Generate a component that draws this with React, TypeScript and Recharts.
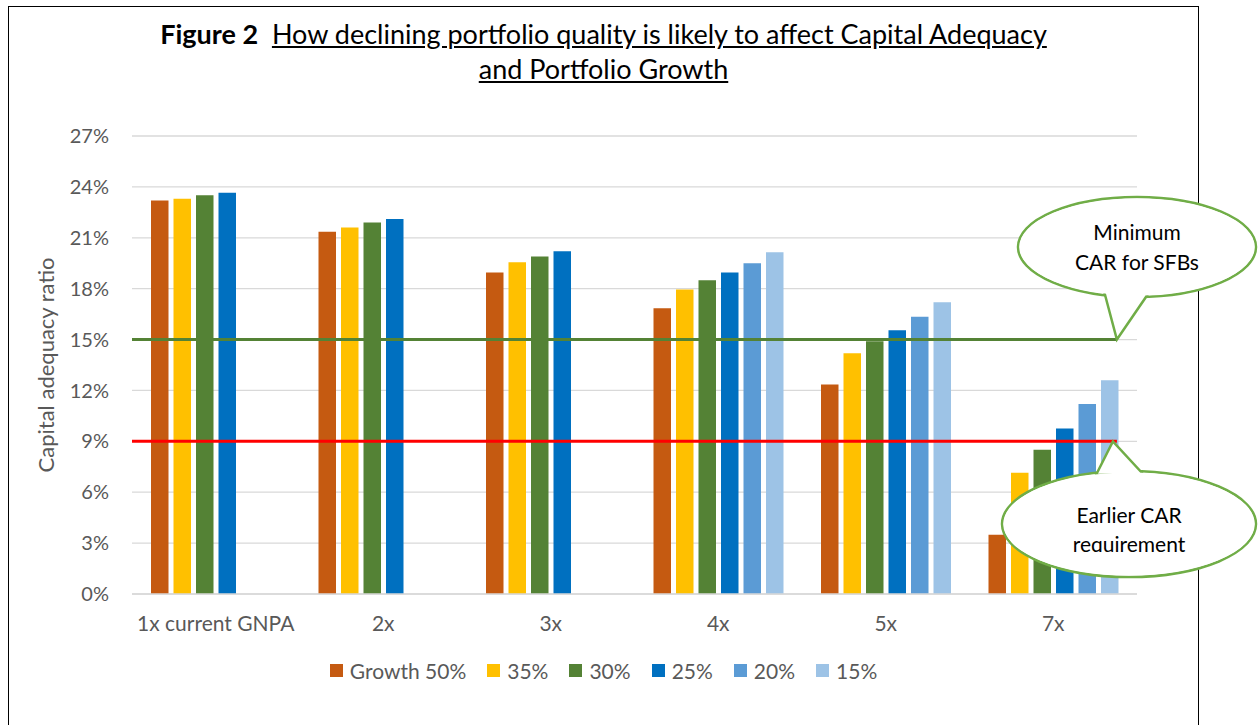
import { BarChart, Bar, XAxis, YAxis, CartesianGrid, ReferenceLine, Legend } from "recharts";

const categories = ["1x current GNPA", "2x", "3x", "4x", "5x", "7x"];
const growth50 = [23.2, 21.35, 18.95, 16.85, 12.35, 3.5];
const growth35 = [23.3, 21.6, 19.55, 17.95, 14.2, 7.15];
const growth30 = [23.5, 21.9, 19.9, 18.5, 14.9, 8.5];
const growth25 = [23.65, 22.1, 20.2, 18.95, 15.55, 9.75];
const growth20 = [null, null, null, 19.5, 16.35, 11.2];
const growth15 = [null, null, null, 20.15, 17.2, 12.6];
const yTicks = [0, 3, 6, 9, 12, 15, 18, 21, 24, 27];
const minCar = 15;
const earlierCar = 9;
const lineEnd = 5.88; // where the lines stop, in category widths from the left of the plot

const series = [
  { key: "g50", name: "Growth 50%", color: "#C55A11", values: growth50 },
  { key: "g35", name: "35%", color: "#FFC000", values: growth35 },
  { key: "g30", name: "30%", color: "#548235", values: growth30 },
  { key: "g25", name: "25%", color: "#0070C0", values: growth25 },
  { key: "g20", name: "20%", color: "#5B9BD5", values: growth20 },
  { key: "g15", name: "15%", color: "#9DC3E6", values: growth15 },
];

const data = categories.map((category, i) => {
  const row: Record<string, string | number | null> = { category };
  series.forEach((s) => (row[s.key] = s.values[i]));
  return row;
});

const W = 1258;
const H = 725;
const plot = { left: 132, top: 136, right: 1137, bottom: 594 };
const yMax = 27;
const FONT = "Lato, 'Open Sans', sans-serif";
const GREY = "#595959";

const xPos = (v: number) => plot.left + (v / categories.length) * (plot.right - plot.left);
const yPos = (v: number) => plot.top + (1 - v / yMax) * (plot.bottom - plot.top);

// reference line that stops at the callout tail instead of running to the plot edge
const shortLine = (color: string) => (p: any) => (
  <line
    x1={p.x1}
    y1={p.y1}
    x2={p.x1 + ((p.x2 - p.x1) * lineEnd) / categories.length}
    y2={p.y2}
    stroke={color}
    strokeWidth={3}
  />
);

function renderLegend() {
  return (
    <div style={{ display: "flex", justifyContent: "center", gap: 21, fontFamily: FONT, fontSize: 21, color: GREY }}>
      {series.map((s) => (
        <div key={s.key} style={{ display: "flex", alignItems: "center", gap: 7 }}>
          <span style={{ width: 13, height: 13, background: s.color, display: "inline-block" }} />
          <span>{s.name}</span>
        </div>
      ))}
    </div>
  );
}

type CalloutProps = {
  cx: number;
  cy: number;
  rx: number;
  ry: number;
  tip: [number, number];
  base: [[number, number], [number, number]];
  lines: string[];
  lineY: number[];
  clipBottom?: number;
  id: string;
};

function Callout({ cx, cy, rx, ry, tip, base, lines, lineY, clipBottom, id }: CalloutProps) {
  const green = "#70AD47";
  const pts = `${base[0][0]},${base[0][1]} ${tip[0]},${tip[1]} ${base[1][0]},${base[1][1]}`;
  return (
    <g>
      <ellipse cx={cx} cy={cy} rx={rx} ry={ry} fill="#fff" stroke={green} strokeWidth={2.5} />
      <polygon points={pts} fill="#fff" stroke={green} strokeWidth={2.5} />
      <ellipse cx={cx} cy={cy} rx={rx - 1.5} ry={ry - 1.5} fill="#fff" />
      {clipBottom && (
        <clipPath id={id}>
          <rect x={cx - rx} y={cy - ry} width={rx * 2} height={clipBottom - (cy - ry)} />
        </clipPath>
      )}
      <g clipPath={clipBottom ? `url(#${id})` : undefined}>
        {lines.map((t, i) => (
          <text key={t} x={cx} y={lineY[i]} textAnchor="middle" fontFamily={FONT} fontSize={21} fill="#000">
            {t}
          </text>
        ))}
      </g>
    </g>
  );
}

export default function App() {
  const tip1: [number, number] = [xPos(lineEnd), yPos(minCar)];
  const tip2: [number, number] = [xPos(lineEnd) - 4, yPos(earlierCar)];
  return (
    <div style={{ position: "absolute", left: 0, top: 0, width: W, height: H, overflow: "hidden", background: "#fff" }}>
      <div
        style={{
          position: "absolute",
          left: 8,
          top: 6,
          width: 1191,
          height: 900,
          borderTop: "1.5px solid #000",
          borderLeft: "1.5px solid #000",
          borderRight: "1.5px solid #000",
          boxSizing: "border-box",
        }}
      />
      <div
        style={{
          position: "absolute",
          left: 8,
          top: 16,
          width: 1191,
          textAlign: "center",
          fontFamily: FONT,
          fontSize: 27,
          lineHeight: "35px",
          color: "#000",
        }}
      >
        <div>
          <span style={{ fontWeight: 700 }}>Figure 2</span>
          <span>&nbsp; </span>
          <span style={{ textDecoration: "underline" }}>How declining portfolio quality is likely to affect Capital Adequacy</span>
        </div>
        <div>
          <span style={{ textDecoration: "underline" }}>and Portfolio Growth</span>
        </div>
      </div>
      <div style={{ position: "absolute", left: 0, top: 0 }}>
        <BarChart
          width={W}
          height={H}
          data={data}
          margin={{ top: plot.top, right: W - plot.right, bottom: H - plot.bottom - 30, left: plot.left - 70 }}
          barSize={17.5}
          barGap={5}
        >
          <CartesianGrid vertical={false} stroke="#D9D9D9" strokeWidth={1.3} />
          <XAxis
            dataKey="category"
            axisLine={{ stroke: "#D9D9D9", strokeWidth: 1.3 }}
            tickLine={false}
            tickSize={0}
            tickMargin={22}
            interval={0}
            tick={{ fill: GREY, fontSize: 21, fontFamily: FONT }}
          />
          <YAxis
            width={70}
            domain={[0, yMax]}
            ticks={yTicks}
            interval={0}
            axisLine={false}
            tickLine={false}
            tickSize={0}
            tickMargin={23}
            tickFormatter={(v) => `${v}%`}
            tick={{ fill: GREY, fontSize: 20, fontFamily: FONT }}
          />
          {series.map((s) => (
            <Bar key={s.key} dataKey={s.key} name={s.name} fill={s.color} isAnimationActive={false} />
          ))}
          <ReferenceLine y={minCar} stroke="#548235" strokeWidth={3} shape={shortLine("#548235")} />
          <ReferenceLine y={earlierCar} stroke="#FF0000" strokeWidth={3} shape={shortLine("#FF0000")} />
          <Legend
            layout="horizontal"
            verticalAlign="middle"
            align="center"
            content={renderLegend}
            wrapperStyle={{ left: 8, top: 658, width: 1191 }}
          />
        </BarChart>
      </div>
      <svg width={W} height={H} style={{ position: "absolute", left: 0, top: 0, pointerEvents: "none" }}>
        <text
          transform="translate(54, 365) rotate(-90)"
          textAnchor="middle"
          fontFamily={FONT}
          fontSize={22}
          fill={GREY}
        >
          Capital adequacy ratio
        </text>
        <Callout
          id="c1"
          cx={1137}
          cy={247}
          rx={119}
          ry={50}
          tip={tip1}
          base={[
            [1104, 291],
            [1148, 294],
          ]}
          lines={["Minimum", "CAR for SFBs"]}
          lineY={[240, 270]}
        />
        <Callout
          id="c2"
          cx={1129}
          cy={524}
          rx={127}
          ry={53}
          tip={tip2}
          base={[
            [1096, 475],
            [1143, 474],
          ]}
          lines={["Earlier CAR", "requirement"]}
          lineY={[523, 552]}
          clipBottom={552}
        />
      </svg>
    </div>
  );
}
